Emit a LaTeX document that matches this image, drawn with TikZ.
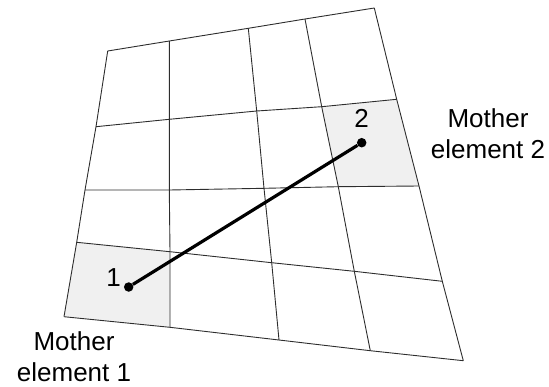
\documentclass[tikz,border=0pt]{standalone}
\usepackage{fontspec}
\setmainfont{Liberation Sans}
\usetikzlibrary{calc}
\definecolor{cellgray}{RGB}{240,240,240}
\definecolor{linegray}{RGB}{45,45,45}

\begin{document}
\begin{tikzpicture}[x=1pt, y=-1pt,
  gridline/.style={draw=linegray, line width=0.9pt, line join=round},
  dot/.style={circle, fill=black, inner sep=0pt, minimum size=9.5pt},
  lbl/.style={inner sep=0pt, font=\fontsize{26}{31}\selectfont, align=center}]
\useasboundingbox (0,0) rectangle (549,386);
% mesh points, one row at a time
\foreach \x/\y [count=\i from 0] in {107.7/51, 169.3/41, 248.3/28.3, 305/19, 374.3/8}
  \coordinate (p\i0) at (\x,\y);
\foreach \x/\y [count=\i from 0] in {96/126.7, 169.3/119.3, 256.7/111, 321.7/106.7, 396.7/99.3}
  \coordinate (p\i1) at (\x,\y);
\foreach \x/\y [count=\i from 0] in {85/190, 169.3/190, 264/188.3, 338.3/186.7, 419/186}
  \coordinate (p\i2) at (\x,\y);
\foreach \x/\y [count=\i from 0] in {76.7/242.3, 170/251.7, 271.7/262.7, 354.3/271.3, 442.3/281.3}
  \coordinate (p\i3) at (\x,\y);
\foreach \x/\y [count=\i from 0] in {64/316.7, 170/327.3, 279/340, 370.3/350.7, 463.3/360.7}
  \coordinate (p\i4) at (\x,\y);
% mother elements
\fill[cellgray] (p03) -- (p13) -- (p14) -- (p04) -- cycle;
\fill[cellgray] (p31) -- (p41) -- (p42) -- (p32) -- cycle;
% mesh lines
\foreach \j in {0,...,4}
  \draw[gridline] (p0\j) -- (p1\j) -- (p2\j) -- (p3\j) -- (p4\j);
\foreach \i in {0,...,4}
  \draw[gridline] (p\i0) -- (p\i1) -- (p\i2) -- (p\i3) -- (p\i4);
\node[dot] (1) at (128.7,287) {};
\node[dot] (2) at (361.7,142.7) {};
\draw[line width=3.2pt] (1) -- (2);
\node[lbl] (3) at (113.5,277.3) {1};
\node[lbl] (4) at (361.7,118.7) {2};
\node[lbl, anchor=north] (5) at (74,331) {Mother\\element 1};
\node[lbl, anchor=north] (6) at (488,108) {Mother\\element 2};
\end{tikzpicture}
\end{document}
